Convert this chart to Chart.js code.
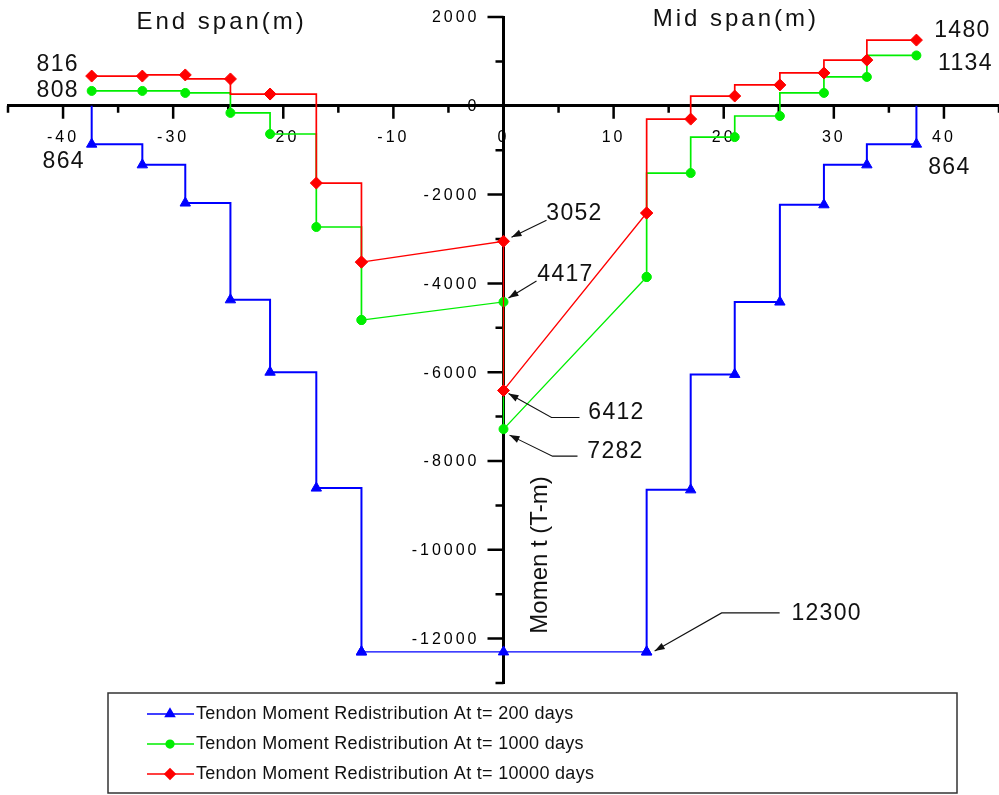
<!DOCTYPE html>
<html>
<head>
<meta charset="utf-8">
<title>Tendon Moment Redistribution</title>
<script src="https://cdn.jsdelivr.net/npm/chart.js@4.4.1/dist/chart.umd.min.js"></script>
<style>
    html, body { margin: 0; padding: 0; background: #fff; }
    #wrap { width: 999px; height: 795px; }
</style>
</head>
<body>
<div id="wrap"><canvas id="momentChart" width="999" height="795"></canvas></div>
<script>
// Stations along the bridge (m): end span left of the support, mid span right of it
const endSpanX = [-37.4, -32.8, -28.9, -24.8, -21.2, -17.0, -12.9];
const centreX = 0;
const midSpanX = [13.0, 17.0, 21.0, 25.1, 29.1, 33.0, 37.5];

// Tendon moment (T-m), t = 200 days (starts and ends on the axis)
const t200Support = 0;
const t200End = [-864, -1330, -2190, -4370, -6000, -8610, -12300];
const t200Centre = [-12300];
const t200Mid = [-12300, -8650, -6050, -4420, -2230, -1330, -864];

// t = 1000 days
const t1000End = [335, 335, 290, -160, -635, -2730, -4825];
const t1000Centre = [-4417, -7282];
const t1000Mid = [-3855, -1515, -705, -230, 290, 650, 1134];

// t = 10000 days
const t10000End = [670, 670, 695, 605, 265, -1740, -3520];
const t10000Centre = [-3052, -6412];
const t10000Mid = [-2415, -300, 220, 470, 740, 1030, 1480];

// Axis ranges / tick steps
const xRange = [-45, 45];
const yRange = [-13000, 2000];
const xTickStep = 5, xLabelStep = 10;
const yTickStep = 1000, yLabelStep = 2000;

const FONT = '"Liberation Sans", Arial, sans-serif';

const pts = (xs, ys) => ys.map((y, i) => ({ x: xs[i], y }));

// Split one curve into stepped end span, straight centre and stepped mid span
const pieces = (end, centre, mid, afterUntil = 0) => {
    const out = [];
    if (afterUntil > 0) out.push([end.slice(0, afterUntil + 1), 'after']);
    out.push([end.slice(afterUntil), 'before']);
    out.push([[end[end.length - 1], ...centre, mid[0]], false]);
    out.push([mid, 'after']);
    return out;
};

const series = [
    {
        label: 'Tendon Moment Redistribution At t= 200 days',
        color: '#0000ff', style: 'triangle', radius: 6, width: 2, order: 3,
        pieces: pieces(
            [{ x: endSpanX[0], y: t200Support, support: true }, ...pts(endSpanX, t200End)],
            pts([centreX], t200Centre),
            [...pts(midSpanX, t200Mid), { x: midSpanX[midSpanX.length - 1], y: t200Support, support: true }]
        )
    },
    {
        label: 'Tendon Moment Redistribution At t= 1000 days',
        color: '#00ee00', style: 'circle', radius: 4.5, width: 1.7, order: 2,
        pieces: pieces(pts(endSpanX, t1000End), pts([centreX, centreX], t1000Centre), pts(midSpanX, t1000Mid))
    },
    {
        label: 'Tendon Moment Redistribution At t= 10000 days',
        color: '#ff0000', style: 'rectRot', radius: 6, width: 1.7, order: 1,
        pieces: pieces(pts(endSpanX, t10000End), pts([centreX, centreX], t10000Centre), pts(midSpanX, t10000Mid), 4)
    }
];

const datasets = [];
series.forEach(s => {
    s.pieces.forEach(([data, stepped]) => {
        datasets.push({
            label: s.label,
            data,
            stepped,
            order: s.order,
            borderColor: s.color,
            backgroundColor: s.color,
            borderWidth: stepped ? s.width : 1.3,
            pointStyle: s.style,
            pointRadius: c => (c.raw && c.raw.support) ? 0 : s.radius,
            pointHoverRadius: 0,
            pointBorderWidth: 1,
            pointBackgroundColor: s.color,
            pointBorderColor: s.color,
            tension: 0,
            fill: false
        });
    });
});

// Value call-outs with leader arrows (offsets in px from the marked point)
const leaderNotes = [
    { text: '3052', x: centreX, y: t10000Centre[0], label: [71, -28], path: [[43, -21], [8, -4]] },
    { text: '4417', x: centreX, y: t1000Centre[0], label: [62, -27], path: [[33, -21], [5, -4]] },
    { text: '6412', x: centreX, y: t10000Centre[1], label: [113, 22], path: [[76, 27], [48, 27], [5, 3]] },
    { text: '7282', x: centreX, y: t1000Centre[1], label: [112, 23], path: [[74, 27], [49, 27], [6, 6]] },
    { text: '12300', x: midSpanX[0], y: t200Mid[0], label: [180, -38], path: [[133, -39], [75, -39], [8, -1]] }
];
const plainNotes = [
    { text: '816', x: endSpanX[0], y: t10000End[0], label: [-34, -11] },
    { text: '808', x: endSpanX[0], y: t1000End[0], label: [-34, 0] },
    { text: '864', x: endSpanX[0], y: t200End[0], label: [-28, 17] },
    { text: '864', x: midSpanX[6], y: t200Mid[6], label: [33, 23] },
    { text: '1480', x: midSpanX[6], y: t10000Mid[6], label: [46, -9] },
    { text: '1134', x: midSpanX[6], y: t1000Mid[6], label: [49, 8] }
];

// Tick marks (long at labelled values) and the left-hand moment labels
const drawAxisTicks = (chart) => {
    const { ctx, scales: { x, y } } = chart;
    const x0 = x.getPixelForValue(centreX);
    const y0 = y.getPixelForValue(0);
    ctx.save();
    ctx.strokeStyle = '#000';
    ctx.lineWidth = 2.5;
    ctx.beginPath();
    x.ticks.forEach(t => {
        if (t.value % xTickStep !== 0) return;
        const px = x.getPixelForValue(t.value);
        const len = t.value % xLabelStep === 0 ? 13 : 7;
        ctx.moveTo(px, y0);
        ctx.lineTo(px, y0 + len);
    });
    y.ticks.forEach(t => {
        if (t.value % yTickStep !== 0) return;
        const py = y.getPixelForValue(t.value);
        const len = t.value % yLabelStep === 0 ? 16 : 8;
        ctx.moveTo(x0, py);
        ctx.lineTo(x0 - len, py);
    });
    ctx.stroke();

    ctx.fillStyle = '#000';
    ctx.font = `16px ${FONT}`;
    ctx.letterSpacing = '3px';
    ctx.textAlign = 'right';
    ctx.textBaseline = 'middle';
    y.ticks.forEach(t => {
        if (t.value % yLabelStep !== 0) return;
        ctx.fillText(String(t.value), x0 - 24, y.getPixelForValue(t.value) + 1);
    });
    ctx.restore();
};

const drawNotes = (chart) => {
    const { ctx, scales: { x, y } } = chart;
    ctx.save();
    ctx.fillStyle = '#111';
    ctx.strokeStyle = '#111';
    ctx.textAlign = 'center';
    ctx.textBaseline = 'middle';

    // span headings
    ctx.font = `24px ${FONT}`;
    ctx.letterSpacing = '3px';
    ctx.fillText('End span(m)', x.getPixelForValue(-25.6), 22);
    ctx.fillText('Mid span(m)', x.getPixelForValue(21.1), 19);

    ctx.font = `23px ${FONT}`;
    ctx.letterSpacing = '1.3px';
    plainNotes.forEach(n => {
        const px = x.getPixelForValue(n.x), py = y.getPixelForValue(n.y);
        ctx.fillText(n.text, px + n.label[0], py + n.label[1]);
    });
    leaderNotes.forEach(n => {
        const px = x.getPixelForValue(n.x), py = y.getPixelForValue(n.y);
        ctx.fillText(n.text, px + n.label[0], py + n.label[1]);
        const path = n.path.map(([dx, dy]) => [px + dx, py + dy]);
        ctx.lineWidth = 1.1;
        ctx.beginPath();
        path.forEach(([a, b], i) => i ? ctx.lineTo(a, b) : ctx.moveTo(a, b));
        ctx.stroke();
        // arrow head at the marked point
        const [tx, ty] = path[path.length - 1];
        const [fx, fy] = path[path.length - 2];
        const ang = Math.atan2(ty - fy, tx - fx);
        ctx.beginPath();
        ctx.moveTo(tx, ty);
        ctx.lineTo(tx - 10 * Math.cos(ang) + 3.5 * Math.sin(ang), ty - 10 * Math.sin(ang) - 3.5 * Math.cos(ang));
        ctx.lineTo(tx - 10 * Math.cos(ang) - 3.5 * Math.sin(ang), ty - 10 * Math.sin(ang) + 3.5 * Math.cos(ang));
        ctx.closePath();
        ctx.fill();
    });

    // vertical axis title, right of the axis
    ctx.save();
    ctx.translate(x.getPixelForValue(centreX) + 37, 555);
    ctx.rotate(-Math.PI / 2);
    ctx.font = `24px ${FONT}`;
    ctx.letterSpacing = '0px';
    ctx.fillText('Momen t (T-m)', 0, 0);
    ctx.restore();
    ctx.restore();
};

const drawLegend = (chart) => {
    const { ctx, chartArea } = chart;
    const left = 108, right = 957;
    const top = chartArea.bottom + 10, bottom = chart.height - 2;
    ctx.save();
    ctx.strokeStyle = '#333';
    ctx.lineWidth = 1.5;
    ctx.strokeRect(left, top, right - left, bottom - top);
    ctx.font = `18px ${FONT}`;
    ctx.letterSpacing = '0.3px';
    ctx.textAlign = 'left';
    ctx.textBaseline = 'middle';
    series.forEach((s, i) => {
        const rowY = top + 21 + i * 30;
        ctx.strokeStyle = s.color;
        ctx.fillStyle = s.color;
        ctx.lineWidth = 1.6;
        ctx.beginPath();
        ctx.moveTo(left + 39, rowY);
        ctx.lineTo(left + 86, rowY);
        ctx.stroke();
        Chart.helpers.drawPoint(ctx, { pointStyle: s.style, rotation: 0, radius: s.radius * 0.85, borderWidth: 1 }, left + 62, rowY);
        ctx.fillStyle = '#111';
        ctx.fillText(s.label, left + 88, rowY);
    });
    ctx.restore();
};

const chartExtras = {
    id: 'chartExtras',
    beforeDraw(chart) {
        // wide letter spacing for the tick labels
        chart.ctx.letterSpacing = '3px';
    },
    beforeDatasetsDraw(chart) {
        chart.ctx.letterSpacing = '0px';
        drawAxisTicks(chart);
    },
    afterDraw(chart) {
        drawNotes(chart);
        drawLegend(chart);
    }
};

// keep the centred axes from pushing the plot area around
const noPadding = s => { s.paddingLeft = 0; s.paddingRight = 0; s.paddingTop = 0; s.paddingBottom = 0; };

const tickFont = { family: FONT, size: 16 };

new Chart(document.getElementById('momentChart').getContext('2d'), {
    type: 'line',
    data: { datasets },
    options: {
        responsive: false,
        animation: false,
        events: [],
        layout: { autoPadding: false, padding: { left: 8, right: 0, top: 17, bottom: 112 } },
        plugins: {
            legend: { display: false },
            tooltip: { enabled: false }
        },
        scales: {
            x: {
                type: 'linear',
                min: xRange[0],
                max: xRange[1],
                position: { y: 0 },
                afterFit: noPadding,
                border: { color: '#000', width: 3 },
                grid: { display: false, drawTicks: false },
                ticks: {
                    stepSize: xTickStep,
                    autoSkip: false,
                    maxRotation: 0,
                    padding: 22,
                    color: '#000',
                    font: tickFont,
                    callback: v => (v % xLabelStep === 0 && Math.abs(v) < xRange[1]) ? String(v) : ''
                }
            },
            y: {
                type: 'linear',
                min: yRange[0],
                max: yRange[1],
                position: { x: 0 },
                afterFit: noPadding,
                border: { color: '#000', width: 3 },
                grid: { display: false, drawTicks: false },
                ticks: {
                    stepSize: yTickStep,
                    autoSkip: false,
                    display: false
                }
            }
        }
    },
    plugins: [chartExtras]
});
</script>
</body>
</html>
